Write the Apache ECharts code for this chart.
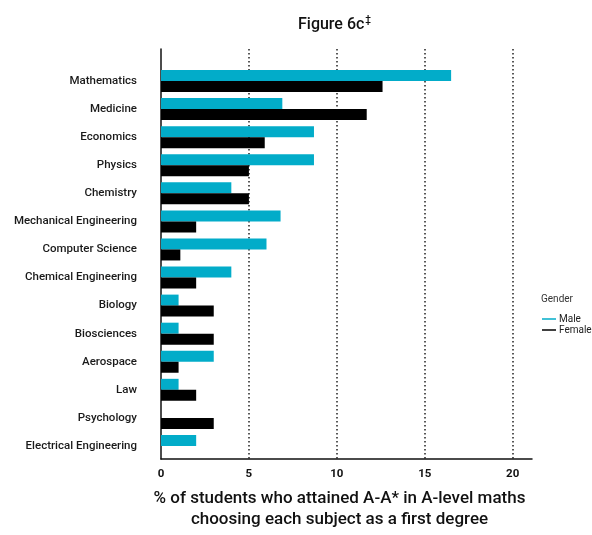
<!DOCTYPE html>
<html>
<head>
<meta charset="utf-8">
<script src="https://cdn.jsdelivr.net/npm/echarts@6/dist/echarts.min.js"></script>
<style>
  html, body { margin: 0; padding: 0; background: #fff; }
  #chart { width: 592px; height: 535px; }
</style>
</head>
<body>
<div id="chart"></div>
<script>
  // subjects, top to bottom
  var subjects = ['Mathematics', 'Medicine', 'Economics', 'Physics', 'Chemistry',
    'Mechanical Engineering', 'Computer Science', 'Chemical Engineering', 'Biology',
    'Biosciences', 'Aerospace', 'Law', 'Psychology', 'Electrical Engineering'];
  var maleData = [16.5, 6.9, 8.7, 8.7, 4.0, 6.8, 6.0, 4.0, 1.0, 1.0, 3.0, 1.0, null, 2.0];
  var femaleData = [12.6, 11.7, 5.9, 5.0, 5.0, 2.0, 1.1, 2.0, 3.0, 3.0, 1.0, 2.0, 3.0, null];
  var xTicks = [0, 5, 10, 15, 20];

  var font = 'Roboto, "Noto Sans", sans-serif';
  var cyan = '#02acc9';

  var chart = echarts.init(document.getElementById('chart'));
  chart.setOption({
    animation: false,
    textStyle: { fontFamily: font },
    title: [
      {
        text: '{a|Figure 6c}{s|\u2021}',
        left: 293, top: 10,
        textStyle: {
          rich: {
            a: { fontSize: 16, fontWeight: 500, color: '#111', fontFamily: font, lineHeight: 20 },
            s: { fontSize: 10, fontWeight: 500, color: '#111', fontFamily: font, verticalAlign: 'top', lineHeight: 12, padding: [0, 0, 0, 1] }
          }
        }
      },
      {
        text: 'Gender',
        left: 536, top: 289,
        textStyle: { fontSize: 10, fontWeight: 'normal', color: '#333', fontFamily: font }
      }
    ],
    legend: {
      orient: 'vertical',
      left: 537, top: 309,
      icon: 'rect',
      itemWidth: 14, itemHeight: 1.5,
      itemGap: 1,
      textStyle: { fontSize: 10, color: '#222', padding: [0, 0, 0, -2] },
      data: ['Male', 'Female']
    },
    grid: [
      // frame: axis lines, dotted gridlines, tick labels
      { left: 161, right: 60, top: 49, bottom: 69 },
      // bars
      { left: 161, right: 60, top: 67, bottom: 75 }
    ],
    xAxis: [
      {
        gridIndex: 0,
        type: 'value',
        min: 0, max: 21.1, interval: 5,
        axisLine: { show: true, lineStyle: { color: '#111', width: 1.5 } },
        axisTick: { show: false },
        axisLabel: {
          showMaxLabel: false, margin: 9,
          fontSize: 11.5, color: '#111', fontWeight: 'bold',
          formatter: function (v) { return xTicks.indexOf(v) >= 0 ? String(v) : ''; }
        },
        splitLine: {
          show: true, showMinLine: false, showMaxLine: false,
          lineStyle: { type: [1.5, 2.5], color: '#222', width: 1.5 }
        },
        name: '% of students who attained A-A* in A-level maths\nchoosing each subject as a first degree',
        nameLocation: 'middle',
        nameGap: 29,
        nameTextStyle: { fontSize: 17, fontWeight: 500, color: '#111', lineHeight: 21, padding: [0, 14, 0, 0] }
      },
      {
        gridIndex: 1,
        type: 'value',
        min: 0, max: 21.1,
        show: false
      }
    ],
    yAxis: [
      {
        gridIndex: 0,
        type: 'value',
        min: 0, max: 1,
        axisLine: { show: true, lineStyle: { color: '#111', width: 1.5 } },
        axisTick: { show: false },
        axisLabel: { show: false },
        splitLine: { show: false }
      },
      {
        gridIndex: 1,
        type: 'category',
        inverse: true,
        data: subjects,
        axisLine: { show: false },
        axisTick: { show: false },
        axisLabel: { margin: 24, fontSize: 11.5, fontWeight: 500, color: '#1a1a1a', padding: [5, 0, 0, 0] }
      }
    ],
    series: [
      {
        name: 'Male',
        type: 'bar',
        xAxisIndex: 1, yAxisIndex: 1,
        barWidth: 11, barGap: '0%',
        itemStyle: { color: cyan },
        data: maleData
      },
      {
        name: 'Female',
        type: 'bar',
        xAxisIndex: 1, yAxisIndex: 1,
        barWidth: 11, barGap: '0%',
        itemStyle: { color: '#000' },
        data: femaleData
      }
    ]
  });
</script>
</body>
</html>
